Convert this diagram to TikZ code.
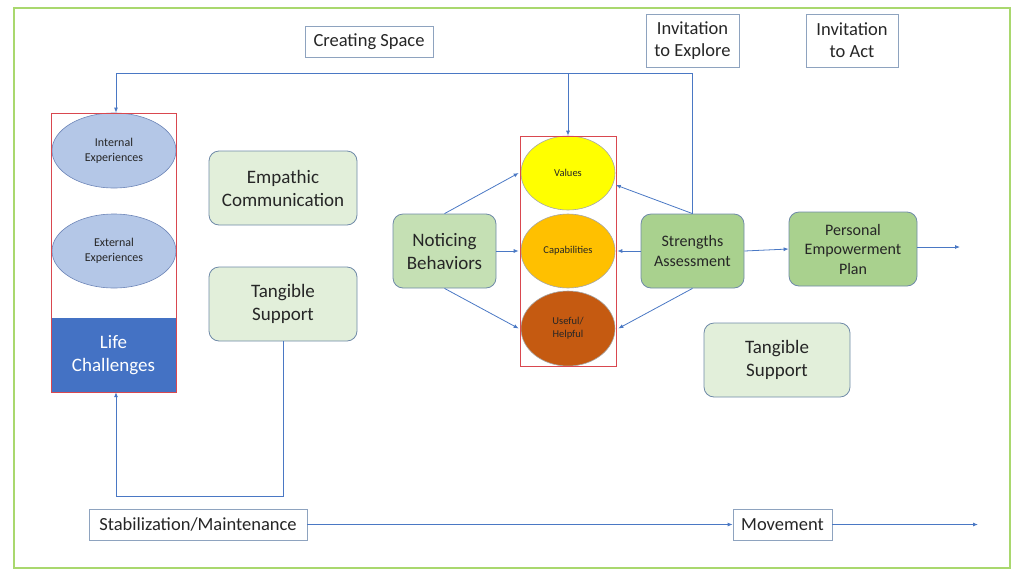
\documentclass[tikz,border=0pt]{standalone}
\usepackage{fontspec}
\setmainfont{Carlito}
\usetikzlibrary{shapes.geometric,arrows.meta,calc}
\definecolor{frame}{HTML}{A9D86E}
\definecolor{bord}{HTML}{8EA3BF}
\definecolor{rbord}{HTML}{6F8AA8}
\definecolor{lgreen}{HTML}{E2EFDA}
\definecolor{mgreen}{HTML}{C5E0B4}
\definecolor{dgreen}{HTML}{A9D18E}
\definecolor{lblue}{HTML}{B4C7E7}
\definecolor{eblue}{HTML}{6E86B8}
\definecolor{lifeblue}{HTML}{4472C4}
\definecolor{arrc}{HTML}{4A78C4}
\definecolor{redb}{HTML}{D9474F}
\definecolor{yel}{HTML}{FFFF00}
\definecolor{orng}{HTML}{FFC000}
\definecolor{brwn}{HTML}{C55A11}
\definecolor{txt}{HTML}{262626}
\tikzset{
  labelbox/.style={draw=bord, line width=0.8pt, fill=white, inner sep=0pt, align=center, text=txt, font=\fontsize{18.5}{22}\selectfont},
  rbox/.style={draw=rbord, line width=0.8pt, rounded corners=10pt, inner sep=0pt, align=center, text=txt, font=\fontsize{19}{23}\selectfont},
  ell/.style={ellipse, draw=eblue, line width=0.6pt, inner sep=0pt, align=center, text=txt},
  redbox/.style={draw=redb, line width=0.8pt, inner sep=0pt},
  arr/.style={draw=arrc, line width=0.8pt, -{Latex[length=5pt,width=4pt]}},
  ln/.style={draw=arrc, line width=0.8pt}
}
\begin{document}
\begin{tikzpicture}[x=1pt,y=-1pt]
\useasboundingbox (0,0) rectangle (1024,576);
\draw[frame, line width=2pt] (14,8) rectangle (1010,568);

% top labels
\node[labelbox, minimum width=128pt, minimum height=31pt] (cs) at (369,41.5) {Creating Space};
\node[labelbox, minimum width=93pt, minimum height=53pt] (ie) at (692.5,40.5) {Invitation\\to Explore};
\node[labelbox, minimum width=92pt, minimum height=53pt] (ia) at (852,40.5) {Invitation\\to Act};

% left column
\node[ell, fill=lblue, minimum width=124pt, minimum height=75pt, font=\fontsize{12}{15}\selectfont] (intern) at (114,150.5) {Internal\\Experiences};
\node[ell, fill=lblue, minimum width=124pt, minimum height=74pt, font=\fontsize{12}{15}\selectfont] (extern) at (114,251) {External\\Experiences};
\node[fill=lifeblue, minimum width=125pt, minimum height=74pt, inner sep=0pt, align=center, text=white, font=\fontsize{19}{23}\selectfont] (life) at (113.5,355) {Life\\Challenges};
\node[redbox, minimum width=125pt, minimum height=279pt] (redL) at (113.5,252.5) {};

\node[rbox, fill=lgreen, minimum width=148pt, minimum height=74pt] (emp) at (283,188) {Empathic\\Communication};
\node[rbox, fill=lgreen, minimum width=148pt, minimum height=74pt] (tangL) at (283,304) {Tangible\\Support};

% middle
\node[rbox, fill=mgreen, minimum width=103pt, minimum height=74pt] (notice) at (444.5,251) {Noticing\\Behaviors};
\node[ell, draw=gray!70, fill=yel, minimum width=94pt, minimum height=74pt, font=\fontsize{10.5}{13}\selectfont] (values) at (568,173) {Values};
\node[ell, draw=gray!70, fill=orng, minimum width=94pt, minimum height=74pt, font=\fontsize{10.5}{13}\selectfont] (capab) at (568,251) {Capabilities};
\node[ell, draw=gray!70, fill=brwn, minimum width=94pt, minimum height=75pt, font=\fontsize{10.5}{13}\selectfont] (useful) at (568,328.5) {Useful/\\Helpful};
\node[redbox, minimum width=96pt, minimum height=230pt] (redM) at (568,251) {};

% right
\node[rbox, fill=dgreen, minimum width=103pt, minimum height=74pt, font=\fontsize{16}{20}\selectfont] (strength) at (692.5,251) {Strengths\\Assessment};
\node[rbox, fill=dgreen, minimum width=128pt, minimum height=74pt, font=\fontsize{16}{19.5}\selectfont] (pep) at (853,249) {Personal\\Empowerment\\Plan};
\node[rbox, fill=lgreen, minimum width=146pt, minimum height=74pt] (tangR) at (777,360) {Tangible\\Support};

% bottom
\node[labelbox, minimum width=218pt, minimum height=31pt] (stab) at (198,524.5) {Stabilization/Maintenance};
\node[labelbox, minimum width=99pt, minimum height=31pt] (move) at (782.5,524.5) {Movement};

% coordinates
\coordinate (topL) at (116,73);
\coordinate (botL) at (283,496);
\coordinate (pepEnd) at (960,247);
\coordinate (moveEnd) at (978,524.5);

% top feedback
\draw[ln] (strength.north) |- (topL);
\draw[arr] (topL) -- (topL |- redL.north);
\draw[arr] (values.north |- topL) -- (values.north);

% noticing arrows
\draw[arr] (notice.north) -- ([xshift=-2pt]values.west);
\draw[arr] (notice.east) -- ([xshift=-2pt]capab.west);
\draw[arr] (notice.south) -- ([xshift=-2pt]useful.west);
% strengths arrows
\draw[arr] (strength.north) -- ([xshift=3pt]values.-15);
\draw[arr] (strength.west) -- ([xshift=2pt]capab.east);
\draw[arr] (strength.south) -- ([xshift=3pt]useful.east);
\draw[arr] (strength.east) -- (pep.west);
\draw[arr] (pep.east |- pepEnd) -- (pepEnd);

% left loop
\draw[arr] (tangL.south) -- (botL) -| (topL |- life.south);

% bottom
\draw[arr] (stab.east) -- (move.west);
\draw[arr] (move.east) -- (moveEnd);
\end{tikzpicture}
\end{document}
